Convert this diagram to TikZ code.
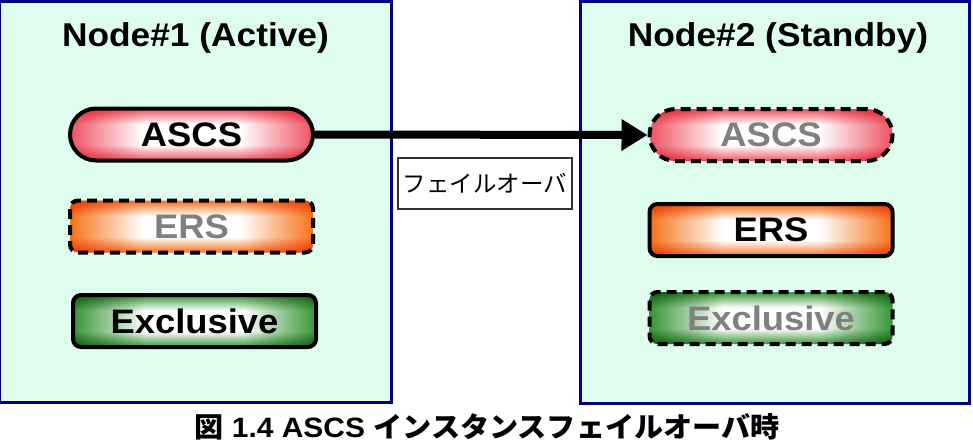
\documentclass[tikz,border=0pt]{standalone}
\usepackage{fontspec}
\setmainfont{Liberation Sans}[FakeStretch=1.07]
\newfontfamily\jpfont{Noto Sans CJK JP}
\newfontfamily\jpwide{Noto Sans CJK JP}[FakeStretch=1.04]
\usetikzlibrary{arrows.meta}
\definecolor{mint}{RGB}{223,253,239}
\definecolor{navy}{RGB}{0,0,128}
\definecolor{redc}{RGB}{238,82,98}
\definecolor{orc}{RGB}{245,115,25}
\definecolor{grc}{RGB}{55,150,55}
\definecolor{dimtext}{RGB}{128,128,128}
\pgfdeclarehorizontalshading{hred}{100bp}{color(0bp)=(redc); color(25bp)=(redc); color(40bp)=(white); color(60bp)=(white); color(75bp)=(redc); color(100bp)=(redc)}
\pgfdeclareverticalshading{vred}{100bp}{color(0bp)=(redc); color(25bp)=(redc); color(40bp)=(white); color(60bp)=(white); color(75bp)=(redc); color(100bp)=(redc)}
\pgfdeclarehorizontalshading{hor}{100bp}{color(0bp)=(orc); color(25bp)=(orc); color(40bp)=(white); color(60bp)=(white); color(75bp)=(orc); color(100bp)=(orc)}
\pgfdeclareverticalshading{vor}{100bp}{color(0bp)=(orc); color(25bp)=(orc); color(40bp)=(white); color(60bp)=(white); color(75bp)=(orc); color(100bp)=(orc)}
\pgfdeclarehorizontalshading{hgr}{100bp}{color(0bp)=(grc); color(25bp)=(grc); color(40bp)=(white); color(60bp)=(white); color(75bp)=(grc); color(100bp)=(grc)}
\pgfdeclareverticalshading{vgr}{100bp}{color(0bp)=(grc); color(25bp)=(grc); color(40bp)=(white); color(60bp)=(white); color(75bp)=(grc); color(100bp)=(grc)}
\tikzset{
  container/.style={draw=navy, line width=3pt, fill=mint, inner sep=0pt},
  title/.style={anchor=base, inner sep=0pt, font=\fontsize{33}{33}\selectfont\bfseries},
  procbox/.style={draw=black, line width=4pt, minimum width=243pt, minimum height=52pt, inner sep=0pt, font=\fontsize{34}{34}\selectfont\bfseries},
  pill/.style={procbox, rounded corners=26pt},
  rbox/.style={procbox, rounded corners=8pt},
  grad/.style={preaction={shading=h#1}, preaction={blend mode=multiply, shading=v#1}},
  idle/.style={dash pattern=on 10pt off 6pt, text=dimtext},
}
\begin{document}
\begin{tikzpicture}[x=1pt, y=-1pt]
\useasboundingbox (0,0) rectangle (973,444);
% containers
\node[container, minimum width=392pt, minimum height=400pt] (n1) at (195,202) {};
\node[container, minimum width=389pt, minimum height=401pt] (n2) at (774.5,202.5) {};
% titles
\node[title] (t1) at (195.5,46) {Node\#1 (Active)};
\node[title] (t2) at (778,46) {Node\#2 (Standby)};
% node 1 processes
\node[pill, grad=red] (a1) at (191.5,134.5) {ASCS};
\node[rbox, grad=or, idle] (e1) at (191.5,226.5) {ERS};
\node[rbox, grad=gr] (x1) at (194.5,321) {Exclusive};
% node 2 processes
\node[pill, grad=red, idle] (a2) at (771,135) {ASCS};
\node[rbox, grad=or] (e2) at (771,230) {ERS};
\node[rbox, grad=gr, idle] (x2) at (771,318) {Exclusive};
% failover arrow
\draw[line width=8pt, -{Triangle[length=26pt, width=30pt]}] (a1.east) -- (a2.west);
\node[draw=black!80, line width=1.5pt, fill=white, minimum width=174pt, minimum height=51pt, inner sep=0pt, font=\jpfont\fontsize{23.5}{23.5}\selectfont] (lbl) at (485,183.5) {フェイルオーバ};
% caption
\node[anchor=base, inner sep=0pt, font=\fontsize{28}{28}\selectfont\bfseries] (cap) at (487,437) {{\jpwide 図} 1.4 ASCS {\jpwide インスタンスフェイルオーバ時}};
\end{tikzpicture}
\end{document}
